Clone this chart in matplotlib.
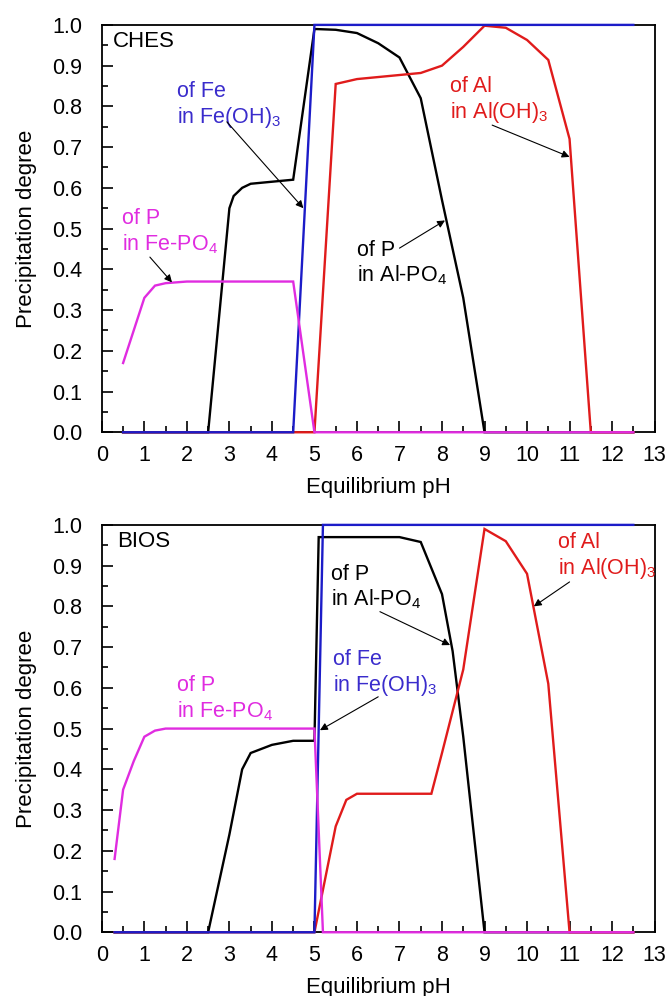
#=========================================================================
# precipitation-degree.py
#=========================================================================

import matplotlib
matplotlib.use('Agg')
import matplotlib.pyplot as plt
from matplotlib.ticker import MultipleLocator

#-------------------------------------------------------------------------
# Configure matplotlib
#-------------------------------------------------------------------------

plt.rcParams['font.family']        = ['Liberation Sans', 'DejaVu Sans']
plt.rcParams['font.size']          = 15
plt.rcParams['mathtext.fontset']   = 'custom'
plt.rcParams['mathtext.rm']        = 'Liberation Sans'
plt.rcParams['mathtext.default']   = 'regular'

#-------------------------------------------------------------------------
# Raw data
#-------------------------------------------------------------------------

# CHES

ches_fe_x   = [ 0.5, 4.5, 5.0, 12.5 ]
ches_fe_y   = [ 0.0, 0.0, 1.0, 1.0 ]

ches_pfe_x  = [ 0.5, 1.0, 1.25, 1.5, 2.0, 4.5, 5.0, 12.5 ]
ches_pfe_y  = [ 0.17, 0.33, 0.36, 0.366, 0.37, 0.37, 0.0, 0.0 ]

ches_pal_x  = [ 0.5, 2.5, 3.0, 3.1, 3.3, 3.5, 4.0, 4.5, 5.0, 5.5, 6.0,
                6.5, 7.0, 7.5, 8.0, 8.5, 9.0, 12.5 ]
ches_pal_y  = [ 0.0, 0.0, 0.55, 0.58, 0.60, 0.61, 0.615, 0.62, 0.99, 0.988,
                0.98, 0.955, 0.92, 0.82, 0.57, 0.33, 0.0, 0.0 ]

ches_al_x   = [ 0.5, 5.0, 5.5, 6.0, 6.5, 7.0, 7.5, 8.0, 8.5, 9.0, 9.5,
                10.0, 10.5, 11.0, 11.5, 12.5 ]
ches_al_y   = [ 0.0, 0.0, 0.855, 0.867, 0.872, 0.877, 0.882, 0.90, 0.946,
                0.998, 0.993, 0.963, 0.914, 0.72, 0.0, 0.0 ]

# BIOS

bios_fe_x   = [ 0.3, 5.0, 5.2, 12.5 ]
bios_fe_y   = [ 0.0, 0.0, 1.0, 1.0 ]

bios_pfe_x  = [ 0.3, 0.5, 0.75, 1.0, 1.25, 1.5, 5.0, 5.2, 12.5 ]
bios_pfe_y  = [ 0.18, 0.35, 0.42, 0.48, 0.495, 0.50, 0.50, 0.0, 0.0 ]

bios_pal_x  = [ 0.3, 2.5, 3.0, 3.3, 3.5, 4.0, 4.5, 5.0, 5.1, 7.0, 7.5,
                8.0, 8.25, 8.5, 9.0, 12.5 ]
bios_pal_y  = [ 0.0, 0.0, 0.24, 0.40, 0.44, 0.46, 0.47, 0.47, 0.97, 0.97,
                0.958, 0.83, 0.69, 0.48, 0.0, 0.0 ]

bios_al_x   = [ 0.3, 5.0, 5.5, 5.75, 6.0, 7.75, 8.0, 8.5, 9.0, 9.5, 10.0,
                10.5, 11.0, 12.5 ]
bios_al_y   = [ 0.0, 0.0, 0.26, 0.325, 0.34, 0.34, 0.44, 0.645, 0.99, 0.96,
                0.88, 0.61, 0.0, 0.0 ]

#-------------------------------------------------------------------------
# Plot parameters
#-------------------------------------------------------------------------

c_black   = '#000000'
c_red     = '#e01b1b'
c_blue    = '#1c1cc8'
c_magenta = '#e02ce0'

t_blue    = '#3a2ccc'
t_red     = '#e01b1b'
t_magenta = '#e02ce0'

lw = 1.7
fs = 15.5

#-------------------------------------------------------------------------
# Helper functions
#-------------------------------------------------------------------------

def setup_axes( ax, title, title_x ):
  ax.set_xlim( 0, 13 )
  ax.set_ylim( 0, 1.0 )
  ax.xaxis.set_major_locator( MultipleLocator(1) )
  ax.xaxis.set_minor_locator( MultipleLocator(0.5) )
  ax.yaxis.set_major_locator( MultipleLocator(0.1) )
  ax.yaxis.set_minor_locator( MultipleLocator(0.05) )
  ax.yaxis.set_major_formatter( plt.FormatStrFormatter('%.1f') )
  ax.tick_params( which='both', direction='in', top=False, right=False )
  ax.tick_params( which='major', length=8, width=1.2 )
  ax.tick_params( which='minor', length=4.5, width=1.2 )
  ax.tick_params( axis='y', which='major', pad=14, labelsize=fs )
  ax.tick_params( axis='x', which='major', pad=9, labelsize=fs )
  for s in ax.spines.values():
    s.set_linewidth( 1.3 )
  ax.set_xlabel( 'Equilibrium pH', fontsize=16, labelpad=8 )
  ax.set_ylabel( 'Precipitation degree', fontsize=16, labelpad=11 )
  ax.text( title_x, 0.985, title, ha='left', va='top', fontsize=16 )

def curve( ax, x, y, color ):
  ax.plot( x, y, color=color, lw=lw, zorder=3, clip_on=False,
           solid_joinstyle='miter' )

def label( ax, x, y, text, color, tail=None, tip=None ):
  ax.text( x, y, text, ha='left', va='top', color=color, fontsize=fs,
           linespacing=1.15 )
  if tail is not None:
    ax.annotate( '', xy=tip, xytext=tail,
                 arrowprops=dict( arrowstyle='-|>', color='k', lw=0.8,
                                  mutation_scale=11, shrinkA=0, shrinkB=0 ) )

#-------------------------------------------------------------------------
# Create plot
#-------------------------------------------------------------------------

fig = plt.figure( figsize=(6.70, 9.96), dpi=100 )

ax1 = fig.add_axes( [ 0.152, 0.566, 0.825, 0.409 ] )
ax2 = fig.add_axes( [ 0.152, 0.064, 0.825, 0.409 ] )

# CHES

curve( ax1, ches_pal_x, ches_pal_y, c_black )
curve( ax1, ches_al_x,  ches_al_y,  c_red )
curve( ax1, ches_fe_x,  ches_fe_y,  c_blue )
curve( ax1, ches_pfe_x, ches_pfe_y, c_magenta )
setup_axes( ax1, 'CHES', 0.27 )

label( ax1, 1.76, 0.862, 'of Fe\nin Fe(OH)$_3$', t_blue,
       ( 2.94, 0.762 ), ( 4.74, 0.55 ) )
label( ax1, 0.47, 0.55, 'of P\nin Fe-PO$_4$', t_magenta,
       ( 1.13, 0.43 ), ( 1.65, 0.368 ) )
label( ax1, 8.19, 0.875, 'of Al\nin Al(OH)$_3$', t_red,
       ( 9.18, 0.754 ), ( 11.0, 0.676 ) )
label( ax1, 6.0, 0.472, 'of P\nin Al-PO$_4$', c_black,
       ( 7.0, 0.452 ), ( 8.07, 0.52 ) )

# BIOS

curve( ax2, bios_pal_x, bios_pal_y, c_black )
curve( ax2, bios_al_x,  bios_al_y,  c_red )
curve( ax2, bios_fe_x,  bios_fe_y,  c_blue )
curve( ax2, bios_pfe_x, bios_pfe_y, c_magenta )
setup_axes( ax2, 'BIOS', 0.35 )

label( ax2, 1.76, 0.631, 'of P\nin Fe-PO$_4$', t_magenta )
label( ax2, 5.44, 0.695, 'of Fe\nin Fe(OH)$_3$', t_blue,
       ( 6.5, 0.578 ), ( 5.13, 0.496 ) )
label( ax2, 5.39, 0.904, 'of P\nin Al-PO$_4$', c_black,
       ( 6.54, 0.787 ), ( 8.19, 0.705 ) )
label( ax2, 10.73, 0.983, 'of Al\nin Al(OH)$_3$', t_red,
       ( 11.0, 0.86 ), ( 10.16, 0.80 ) )

#-------------------------------------------------------------------------
# Save
#-------------------------------------------------------------------------

fig.savefig( 'out.png', dpi=100 )
